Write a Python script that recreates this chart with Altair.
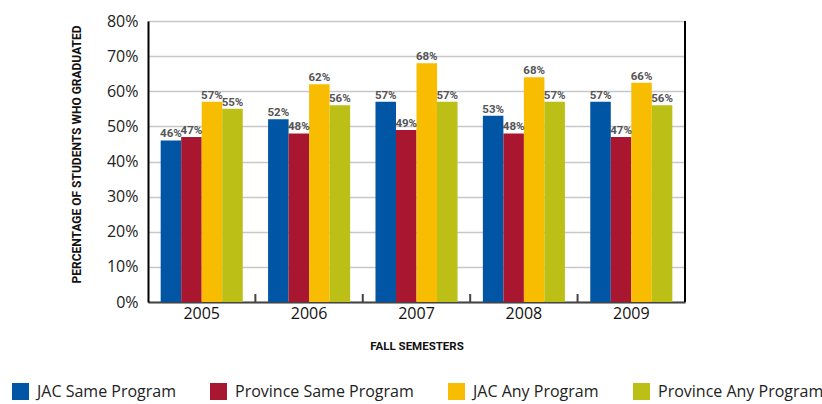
import altair as alt
import pandas as pd

years = ["2005", "2006", "2007", "2008", "2009"]
series = ["JAC Same Program", "Province Same Program", "JAC Any Program", "Province Any Program"]
colors = ["#0055A5", "#A8172F", "#F8BD00", "#BBBF16"]

# bar heights as drawn
jac_same = [46, 52, 57, 53, 57]
prov_same = [47, 48, 49, 48, 47]
jac_any = [57, 62, 68, 64, 62.4]
prov_any = [55, 56, 57, 57, 56]

# printed labels
jac_same_lbl = ["46%", "52%", "57%", "53%", "57%"]
prov_same_lbl = ["47%", "48%", "49%", "48%", "47%"]
jac_any_lbl = ["57%", "62%", "68%", "68%", "66%"]
prov_any_lbl = ["55%", "56%", "57%", "57%", "56%"]

y_ticks = [0, 10, 20, 30, 40, 50, 60, 70, 80]
boundary_years = ["2006", "2007", "2008", "2009"]

rows = []
for s, vals, lbls, pair in [
    (series[0], jac_same, jac_same_lbl, "A"),
    (series[1], prov_same, prov_same_lbl, "A"),
    (series[2], jac_any, jac_any_lbl, "B"),
    (series[3], prov_any, prov_any_lbl, "B"),
]:
    for yr, v, l in zip(years, vals, lbls):
        rows.append({"year": yr, "series": s, "value": v, "label": l, "pair": pair})
df = pd.DataFrame(rows)

W, H = 537, 281
BOLD = "Roboto"
SANS = "Open Sans"

x_enc = alt.X(
    "year:N",
    sort=years,
    scale=alt.Scale(paddingInner=0.236, paddingOuter=0.118),
    axis=alt.Axis(
        title="FALL SEMESTERS",
        titleFont=BOLD,
        titleFontSize=11.5,
        titleFontWeight="bold",
        titleColor="#111",
        titleY=44,
        titleBaseline="middle",
        labelFont=SANS,
        labelFontSize=16,
        labelColor="#111",
        labelPadding=3,
        labelAngle=0,
        ticks=False,
        domainColor="#444",
        domainWidth=2,
        grid=False,
    ),
)
xoff = alt.XOffset("series:N", sort=series, scale=alt.Scale(domain=series, paddingInner=0, paddingOuter=0))
y_enc = alt.Y(
    "value:Q",
    scale=alt.Scale(domain=[0, 80]),
    axis=alt.Axis(
        values=y_ticks,
        labelExpr="datum.value + '%'",
        labelOverlap=False,
        title="PERCENTAGE OF STUDENTS WHO GRADUATED",
        titleFont=BOLD,
        titleFontSize=12,
        titleFontWeight="bold",
        titleColor="#111",
        titleAngle=270,
        titleX=-72,
        titleY=133,
        titleAlign="center",
        titleBaseline="middle",
        titleLimit=400,
        labelFont=SANS,
        labelFontSize=16,
        labelColor="#222",
        labelPadding=10,
        ticks=False,
        domainColor="#000",
        domainWidth=2,
        gridColor="#c8c8c8",
        gridWidth=1.5,
    ),
)
color_enc = alt.Color(
    "series:N",
    sort=series,
    scale=alt.Scale(domain=series, range=colors),
    legend=alt.Legend(
        title=None,
        orient="none",
        legendX=-136,
        legendY=362,
        direction="horizontal",
        columns=4,
        symbolType="square",
        symbolSize=289,
        symbolStrokeWidth=0,
        symbolOpacity=1,
        labelFont=SANS,
        labelFontSize=16,
        labelColor="#222",
        labelOffset=8,
        labelLimit=300,
        columnPadding=34,
    ),
)

base = alt.Chart(df)

bars_a = base.transform_filter("datum.pair == 'A'").mark_bar(xOffset=-1).encode(
    x=x_enc, xOffset=xoff, y=y_enc, color=color_enc
)
bars_b = base.transform_filter("datum.pair == 'B'").mark_bar(xOffset=1).encode(
    x=x_enc, xOffset=xoff, y=y_enc, color=color_enc
)
txt_style = dict(dy=-1, baseline="bottom", font=BOLD, fontWeight="bold", fontSize=11.5, color="#555")
txt_a = base.transform_filter("datum.pair == 'A'").mark_text(xOffset=-1, **txt_style).encode(
    x=x_enc, xOffset=xoff, y=y_enc, text="label:N"
)
txt_b = base.transform_filter("datum.pair == 'B'").mark_text(xOffset=1, **txt_style).encode(
    x=x_enc, xOffset=xoff, y=y_enc, text="label:N"
)

ticks = alt.Chart(pd.DataFrame({"year": boundary_years})).mark_rule(
    color="#444", strokeWidth=2, xOffset=-12.7
).encode(
    x=alt.X("year:N", sort=years, bandPosition=0),
    y=alt.value(H),
    y2=alt.value(H - 8),
)

right_border = alt.Chart(pd.DataFrame({"year": ["2009"]})).mark_rule(color="#000", strokeWidth=2).encode(
    x=alt.value(W), y=alt.value(0), y2=alt.value(H)
)

chart = alt.layer(bars_a, bars_b, txt_a, txt_b, ticks, right_border).properties(
    width=W,
    height=H,
    autosize=alt.AutoSizeParams(type="none"),
    padding={"left": 148, "top": 21, "right": 137, "bottom": 102},
).configure_view(strokeWidth=0).configure(background="white")

chart.save("out.html", embed_options={"renderer": "svg", "actions": False})
